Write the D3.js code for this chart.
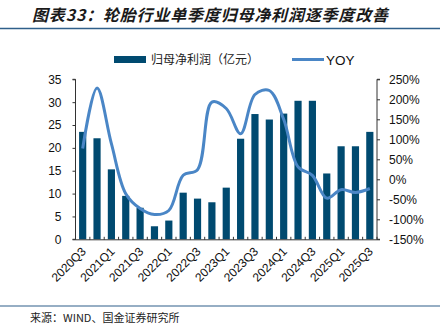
<!DOCTYPE html>
<html><head><meta charset="utf-8">
<script src="https://cdn.jsdelivr.net/npm/d3@7"></script>
<style>
html,body{margin:0;padding:0;background:#fff;}
svg{display:block;}
</style></head>
<body>
<svg id="c" width="440" height="326"></svg>
<script>
const quarters = ["2020Q3","2020Q4","2021Q1","2021Q2","2021Q3","2021Q4","2022Q1","2022Q2","2022Q3","2022Q4","2023Q1","2023Q2","2023Q3","2023Q4","2024Q1","2024Q2","2024Q3","2024Q4","2025Q1","2025Q2","2025Q3"];
const profit = [23.5,22.1,15.3,9.5,6.9,2.85,4.1,10.2,8.9,8.1,11.3,22.0,27.4,26.2,27.5,30.3,30.3,14.4,20.35,20.35,23.5];
const yoy = [77,228,89,-36,-73,-88,-78,10,24,193,177,114,212,222,150,31,10,-47,-26,-33,-23];
const leftTicks = [0,5,10,15,20,25,30,35];
const rightTicks = [-150,-100,-50,0,50,100,150,200,250];

const svg = d3.select("#c");
const latin = "'Liberation Sans', Arial, sans-serif";
const cjk = "'Noto Sans CJK SC', sans-serif";

// Title
svg.append("text").attr("x",32).attr("y",21)
  .attr("font-family",cjk).attr("font-size",16).attr("font-weight","bold")
  .attr("font-style","italic").attr("fill","#1a1a1a")
  .attr("textLength",356).attr("lengthAdjust","spacing")
  .text("图表33：轮胎行业单季度归母净利润逐季度改善");
svg.append("line").attr("x1",0).attr("x2",440).attr("y1",28.5).attr("y2",28.5)
  .attr("stroke","#2f5f8a").attr("stroke-width",1.5);

const L = 75.5, R = 377, T = 79.3, B = 239.3;
const x = d3.scaleBand().domain(quarters).range([L,R]).paddingInner(0.5).paddingOuter(0.25);
const yL = d3.scaleLinear().domain([0,35]).range([B,T]);
const yR = d3.scaleLinear().domain([-150,250]).range([B,T]);

// Bars
svg.append("g").selectAll("rect").data(profit).join("rect")
  .attr("x",(d,i)=>x(quarters[i]))
  .attr("width",x.bandwidth())
  .attr("y",d=>yL(d))
  .attr("height",d=>yL(0)-yL(d))
  .attr("fill","#004a70");

// Line
const line = d3.line().x((d,i)=>x(quarters[i])+x.bandwidth()/2).y(d=>yR(d)).curve(d3.curveCatmullRom.alpha(0.5));
svg.append("path").datum(yoy).attr("d",line).attr("fill","none")
  .attr("stroke","#4a86c6").attr("stroke-width",3);

// Left axis
const gl = svg.append("g").attr("transform",`translate(${L},0)`)
  .call(d3.axisLeft(yL).tickValues(leftTicks).tickSize(3).tickPadding(11));
gl.selectAll("text").attr("font-family",latin).attr("font-size",12).attr("fill","#111");
gl.selectAll("line,path").attr("stroke","#333");
gl.select("path").attr("d",`M-3,${T}H0V${B}H-3`);

// Right axis
const gr = svg.append("g").attr("transform",`translate(${R},0)`)
  .call(d3.axisRight(yR).tickValues(rightTicks).tickSize(3).tickPadding(9).tickFormat(d=>d+"%"));
gr.selectAll("text").attr("font-family",latin).attr("font-size",12).attr("fill","#111");
gr.selectAll("line,path").attr("stroke","#333");
gr.select("path").attr("d",`M3,${T}H0V${B}H3`);

// Bottom axis
const gb = svg.append("g");
gb.append("line").attr("x1",L).attr("x2",R).attr("y1",B+0.5).attr("y2",B+0.5).attr("stroke","#333");
gb.selectAll("line.t").data(d3.range(quarters.length+1)).join("line").attr("class","t")
  .attr("x1",i=>L + i*(R-L)/quarters.length).attr("x2",i=>L + i*(R-L)/quarters.length)
  .attr("y1",B-2.5).attr("y2",B+0.5).attr("stroke","#333");
gb.selectAll("text").data(quarters.filter((q,i)=>i%2===0)).join("text")
  .attr("transform",q=>`translate(${x(q)+x.bandwidth()/2+4},${B+13}) rotate(-45)`)
  .attr("text-anchor","end").attr("font-family",latin).attr("font-size",12).attr("fill","#111")
  .text(q=>q);

// Legend
svg.append("rect").attr("x",114).attr("y",56).attr("width",32).attr("height",7).attr("fill","#004a70");
svg.append("text").attr("x",151).attr("y",63.5).attr("font-family",cjk).attr("font-size",12).attr("fill","#222")
  .text("归母净利润（亿元）");
svg.append("line").attr("x1",292).attr("x2",324).attr("y1",59.5).attr("y2",59.5).attr("stroke","#4a86c6").attr("stroke-width",3);
svg.append("text").attr("x",326).attr("y",64.5).attr("font-family",latin).attr("font-size",13.5).attr("fill","#111").text("YOY");

// Footer
svg.append("line").attr("x1",0).attr("x2",440).attr("y1",306).attr("y2",306).attr("stroke","#2f5f8a").attr("stroke-width",1.2);
svg.append("text").attr("x",30).attr("y",322).attr("font-family",cjk).attr("font-size",11).attr("fill","#222")
  .text("来源：WIND、国金证券研究所");
</script>
</body></html>
